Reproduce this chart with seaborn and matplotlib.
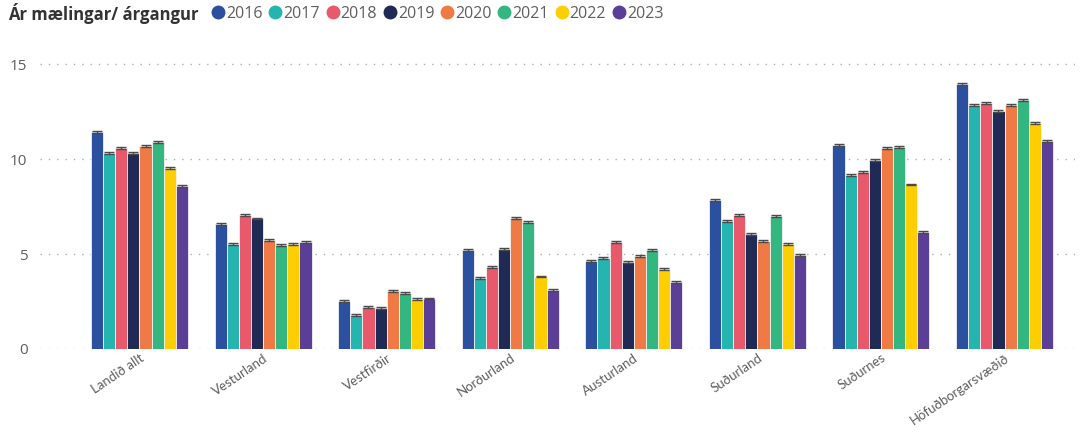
import matplotlib
matplotlib.use("Agg")
import matplotlib.pyplot as plt
from matplotlib.lines import Line2D
import pandas as pd
import seaborn as sns

# Values
REGIONS = ["Landið allt", "Vesturland", "Vestfirðir", "Norðurland",
           "Austurland", "Suðurland", "Suðurnes", "Höfuðborgarsvæðið"]
YEARS = ["2016", "2017", "2018", "2019", "2020", "2021", "2022", "2023"]

Y2016 = [11.43, 6.57, 2.55, 5.22, 4.66, 7.85, 10.75, 13.97]
Y2017 = [10.31, 5.53, 1.80, 3.73, 4.78, 6.73, 9.15, 12.87]
Y2018 = [10.57, 7.07, 2.20, 4.34, 5.62, 7.06, 9.33, 12.96]
Y2019 = [10.35, 6.88, 2.17, 5.27, 4.57, 6.06, 9.98, 12.56]
Y2020 = [10.71, 5.74, 3.06, 6.92, 4.90, 5.71, 10.57, 12.87]
Y2021 = [10.93, 5.46, 2.97, 6.67, 5.22, 6.99, 10.66, 13.12]
Y2022 = [9.54, 5.52, 2.63, 3.82, 4.22, 5.52, 8.67, 11.90]
Y2023 = [8.60, 5.65, 2.66, 3.13, 3.55, 4.97, 6.16, 10.96]

YEAR_COLORS = ["#2B50A0", "#26B5AE", "#E8596B", "#1F2A55",
               "#EF7A45", "#33B67F", "#FFCE00", "#5B3E96"]

TEXT_GREY = "#605E5C"

sns.set_theme(style="white")
plt.rcParams["font.family"] = ["Open Sans", "DejaVu Sans"]

series = [Y2016, Y2017, Y2018, Y2019, Y2020, Y2021, Y2022, Y2023]
df = pd.DataFrame(
    [(r, y, v) for y, vals in zip(YEARS, series) for r, v in zip(REGIONS, vals)],
    columns=["region", "year", "value"],
)

fig = plt.figure(figsize=(10.91, 4.32), dpi=100)
ax = fig.add_axes([40 / 1091, (432 - 349) / 432, (1075 - 40) / 1091, 296 / 432])

sns.barplot(
    data=df, x="region", y="value", hue="year", order=REGIONS, hue_order=YEARS,
    palette=YEAR_COLORS, saturation=1, width=0.785, errorbar=None, ax=ax,
    edgecolor="#f2f2f2", linewidth=0.6, legend=False,
)

# tiny error caps on top of each bar
for p in ax.patches:
    h = p.get_height()
    if h <= 0:
        continue
    xc = p.get_x() + p.get_width() / 2
    ax.errorbar(xc, h, yerr=0.05, fmt="none", ecolor="#4a4a4a",
                elinewidth=1.0, capsize=3.5, capthick=1.0, zorder=3)

ax.set_xlim(-0.805, 7.57)
ax.set_ylim(0, 15.6)
ax.set_yticks([0, 5, 10, 15])
ax.grid(axis="y", linestyle=(0, (1, 5)), color="#B0B0B0", linewidth=1.0)
ax.set_axisbelow(True)
for s in ax.spines.values():
    s.set_visible(False)
ax.set_xlabel("")
ax.set_ylabel("")
ax.tick_params(axis="y", length=0, pad=9, labelsize=11, labelcolor=TEXT_GREY)
ax.tick_params(axis="x", length=0, pad=2, labelcolor=TEXT_GREY)
ax.set_xticks(range(len(REGIONS)))
ax.set_xticklabels(REGIONS, rotation=34, ha="right", rotation_mode="anchor",
                   fontsize=9.5, family=["Lato", "DejaVu Sans"])

# legend row
fig.text(8 / 1091, 1 - 14 / 432, "Ár mælingar/ árgangur", fontsize=12,
         fontweight="bold", color="#333333", va="center", ha="left")
handles = [Line2D([0], [0], marker="o", linestyle="", markersize=9,
                  markerfacecolor=c, markeredgecolor=c) for c in YEAR_COLORS]
fig.legend(handles, YEARS, loc="center left", bbox_to_anchor=(210 / 1091, 1 - 14 / 432),
           ncol=8, frameon=False, fontsize=11.5, handletextpad=0.0,
           columnspacing=0.3, handlelength=1.0, labelcolor=TEXT_GREY,
           borderaxespad=0, borderpad=0)

fig.savefig("out.png", dpi=100, facecolor="white")
